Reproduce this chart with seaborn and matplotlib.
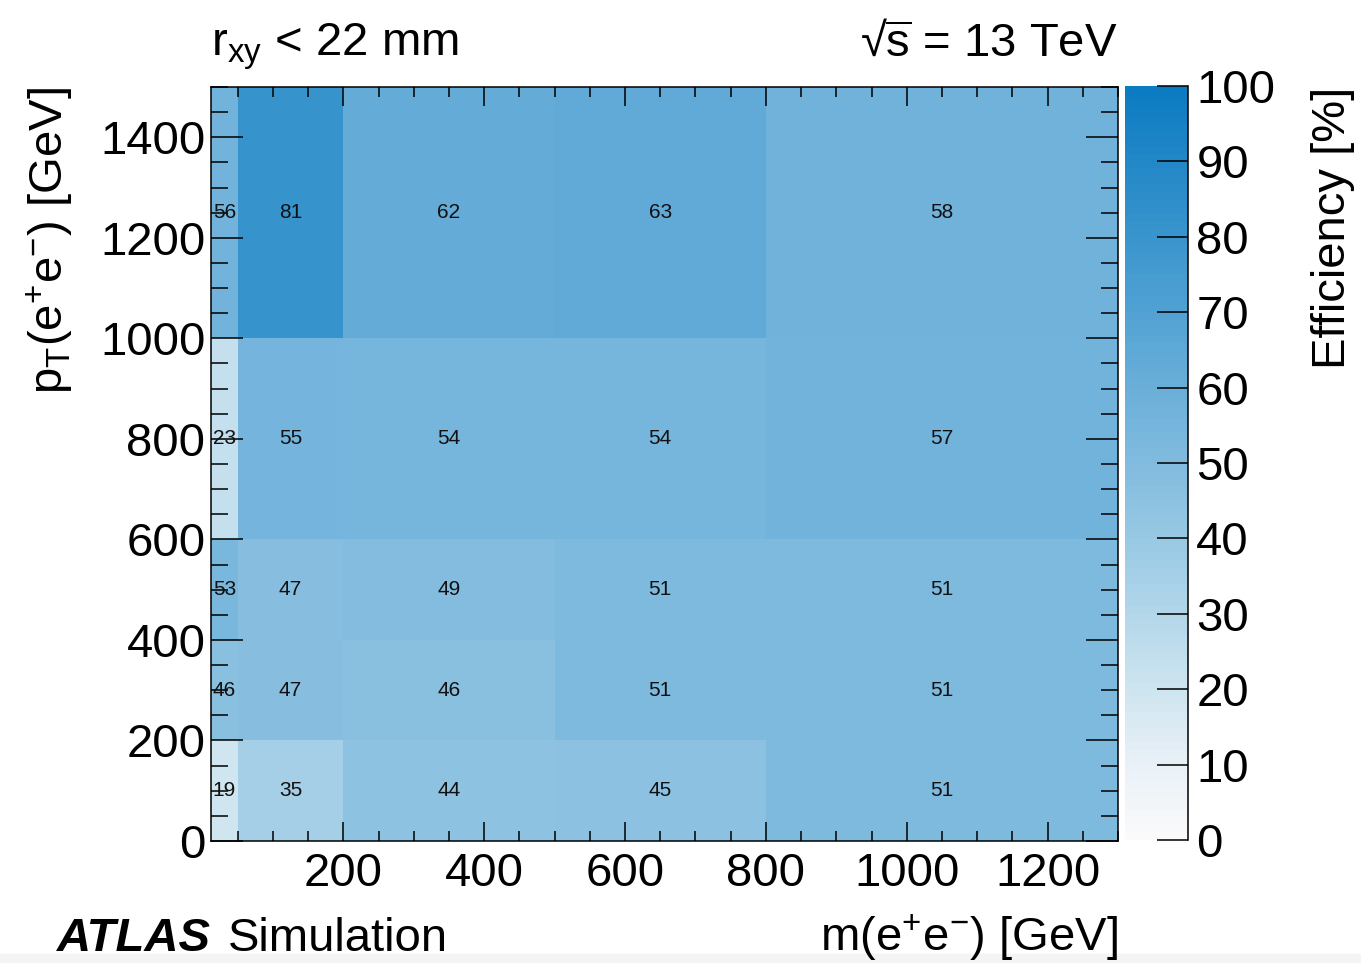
import numpy as np
import pandas as pd
import matplotlib
matplotlib.use('Agg')
import matplotlib.pyplot as plt
import seaborn as sns
from matplotlib.colors import LinearSegmentedColormap
from matplotlib.ticker import MultipleLocator

# bin edges [GeV]
mass_edges = [12, 50, 200, 500, 800, 1300]
pt_edges = [0, 200, 400, 600, 1000, 1500]

# efficiency [%] per pT row (bottom to top), one value per mass bin
eff_pt_0_200 = [19, 35, 44, 45, 51]
eff_pt_200_400 = [46, 47, 46, 51, 51]
eff_pt_400_600 = [53, 47, 49, 51, 51]
eff_pt_600_1000 = [23, 55, 54, 54, 57]
eff_pt_1000_1500 = [56, 81, 62, 63, 58]

cbar_ticks = [0, 10, 20, 30, 40, 50, 60, 70, 80, 90, 100]
palette = ['#fafafa', '#e8f0f7', '#cde4ef', '#b2d6ea', '#97c8e3', '#82bbdf',
           '#6aafd9', '#52a2d3', '#3a95cd', '#2388c7', '#0b7bc2']

rows = [eff_pt_0_200, eff_pt_200_400, eff_pt_400_600, eff_pt_600_1000, eff_pt_1000_1500]
mass_centers = [(a + b) / 2 for a, b in zip(mass_edges[:-1], mass_edges[1:])]
pt_centers = [(a + b) / 2 for a, b in zip(pt_edges[:-1], pt_edges[1:])]

records = []
for j, row in enumerate(rows):
    for i, val in enumerate(row):
        records.append({'mass': mass_centers[i], 'pt': pt_centers[j], 'eff': val})
df = pd.DataFrame(records)

sns.set_style('ticks')
plt.rcParams['font.family'] = ['Liberation Sans', 'DejaVu Sans']
plt.rcParams['mathtext.fontset'] = 'custom'
plt.rcParams['mathtext.rm'] = 'Liberation Sans'
plt.rcParams['mathtext.it'] = 'Liberation Sans:italic'
plt.rcParams['mathtext.bf'] = 'Liberation Sans:bold'
plt.rcParams['axes.axisbelow'] = False
plt.rcParams['text.color'] = 'black'

cmap = LinearSegmentedColormap.from_list('eff', palette, N=100)

W, H = 1361, 963
fs = 34
fig = plt.figure(figsize=(W / 100, H / 100), dpi=100)
ax = fig.add_axes([211 / W, 1 - 841 / H, (1118 - 211) / W, (841 - 87) / H])
cax = fig.add_axes([1125 / W, 1 - 840 / H, 63 / W, (840 - 86) / H])

fig.patches.append(plt.Rectangle((0, 0), 1, 1 - 954 / H, transform=fig.transFigure,
                                 color='#f4f4f4', zorder=-1))

sns.histplot(data=df, x='mass', y='pt', weights='eff', bins=[mass_edges, pt_edges],
             cmap=cmap, vmin=0, vmax=100, ax=ax, cbar=True, cbar_ax=cax)

for j, row in enumerate(rows):
    for i, val in enumerate(row):
        ax.text(mass_centers[i], pt_centers[j], f'{val}', ha='center', va='center',
                fontsize=15, color='#111111')

ax.set_axisbelow(False)
ax.set_xlim(mass_edges[0], mass_edges[-1])
ax.set_ylim(pt_edges[0], pt_edges[-1])
ax.set_xlabel('')
ax.set_ylabel('')
ax.xaxis.set_major_locator(MultipleLocator(200))
ax.xaxis.set_minor_locator(MultipleLocator(50))
ax.yaxis.set_major_locator(MultipleLocator(200))
ax.yaxis.set_minor_locator(MultipleLocator(50))
ax.tick_params(which='both', direction='in', top=True, right=True, width=1.1,
               color='black', labelsize=fs, labelcolor='black')
ax.tick_params(axis='x', which='major', length=14, pad=8)
ax.tick_params(axis='x', which='minor', length=7)
ax.tick_params(axis='y', which='major', length=23, pad=4)
ax.tick_params(axis='y', which='minor', length=12)
for sp in ax.spines.values():
    sp.set_visible(True)
    sp.set_linewidth(1.1)
    sp.set_color('black')

cbar = ax.collections[0].colorbar
cbar.set_ticks(cbar_ticks)
cbar.outline.set_visible(False)
cax.set_axisbelow(False)
cax.spines['right'].set_visible(True)
cax.spines['right'].set_linewidth(1.1)
cax.spines['right'].set_color('black')
cax.tick_params(direction='in', length=22, width=1.1, labelsize=fs, pad=6,
                color='black', labelcolor='black')

fig.text(211 / W, 1 - 56 / H, r'r$_\mathrm{xy}$ < 22 mm', fontsize=fs,
         ha='left', va='baseline')
fig.text(1118 / W, 1 - 56 / H, '\u221a' + r'$\overline{\mathrm{s}}$ = 13 TeV', fontsize=fs,
         ha='right', va='baseline')
fig.text(57 / W, 1 - 951 / H, 'ATLAS', fontsize=fs, fontweight='bold',
         fontstyle='italic', ha='left', va='baseline')
fig.text(228 / W, 1 - 951 / H, 'Simulation', fontsize=fs, ha='left', va='baseline')
fig.text(1118 / W, 1 - 951 / H, r'm(e$^\mathrm{+}$e$^\mathrm{-}$) [GeV]', fontsize=fs,
         ha='right', va='baseline')
fig.text(50 / W, 1 - 87 / H, r'p$_\mathrm{T}$(e$^\mathrm{+}$e$^\mathrm{-}$) [GeV]',
         fontsize=fs, rotation=90, ha='center', va='top')
fig.text(1333 / W, 1 - 87 / H, 'Efficiency [%]', fontsize=fs, rotation=90,
         ha='center', va='top')

fig.savefig('out.png', dpi=100)
